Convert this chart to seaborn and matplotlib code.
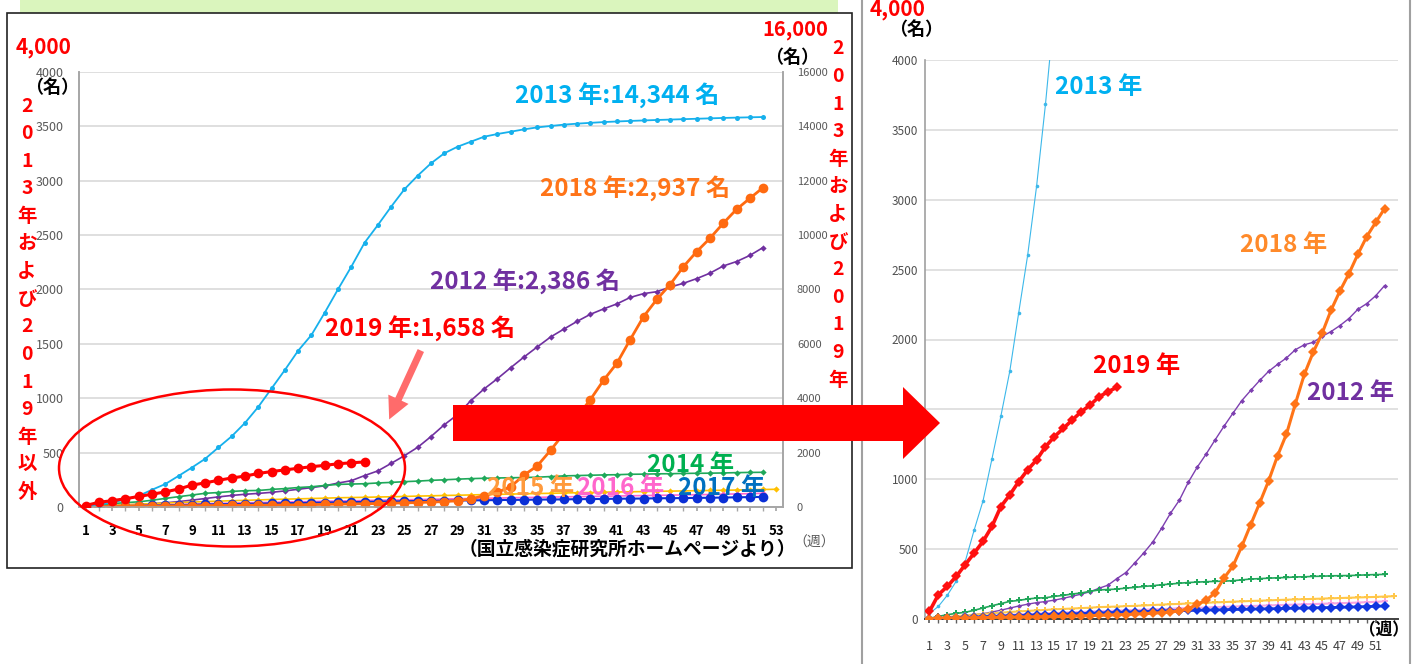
import matplotlib
matplotlib.use("Agg")
import matplotlib.pyplot as plt
import matplotlib.patches as mpatches
import seaborn as sns

W, H = 1418, 664

# ── Data: cumulative rubella cases by week ────────────────────────────────
weeks52 = list(range(1, 53))
weeks53 = list(range(1, 54))
weeks22 = list(range(1, 23))

cases_2012 = [5, 10, 14, 19, 24, 30, 38, 50, 63, 78,
              93, 106, 117, 125, 135, 148, 163, 178, 195, 220,
              242, 289, 332, 401, 472, 549, 648, 756, 850, 978,
              1086, 1180, 1281, 1379, 1472, 1563, 1636, 1707, 1772, 1822,
              1868, 1927, 1962, 1980, 2022, 2057, 2100, 2150, 2216, 2257,
              2313, 2386]
cases_2013 = [40, 90, 170, 270, 410, 635, 845, 1145, 1451, 1773,
              2192, 2602, 3095, 3684, 4363, 5040, 5750, 6328, 7148, 8008,
              8839, 9721, 10371, 11046, 11687, 12188, 12641, 13010, 13252, 13437,
              13620, 13719, 13804, 13890, 13963, 14014, 14063, 14100, 14130, 14158,
              14180, 14200, 14218, 14235, 14250, 14265, 14280, 14295, 14310, 14322,
              14333, 14344]
cases_2014 = [5, 18, 31, 40, 48, 62, 79, 95, 110, 126,
              133, 143, 150, 152, 162, 169, 179, 186, 198, 208,
              211, 214, 221, 226, 233, 238, 245, 250, 256, 261,
              264, 267, 269, 271, 274, 280, 286, 289, 292, 295,
              297, 301, 302, 305, 306, 309, 310, 311, 313, 316,
              318, 319]
cases_2015 = [4, 9, 14, 20, 26, 31, 36, 41, 45, 50,
              54, 58, 61, 65, 69, 72, 75, 78, 81, 85,
              87, 89, 92, 94, 97, 100, 103, 106, 108, 111,
              114, 116, 119, 121, 124, 126, 129, 131, 133, 136,
              138, 140, 142, 144, 146, 148, 150, 152, 154, 156,
              158, 161, 163]
cases_2016 = [3, 6, 9, 12, 15, 18, 21, 24, 27, 30,
              33, 36, 38, 41, 43, 46, 48, 50, 53, 55,
              57, 60, 62, 64, 66, 69, 71, 73, 76, 78,
              80, 82, 85, 87, 89, 91, 93, 95, 97, 99,
              101, 103, 105, 107, 109, 111, 113, 115, 118, 120,
              123, 126]
cases_2017 = [2, 4, 6, 9, 11, 14, 16, 18, 20, 23,
              25, 27, 29, 31, 33, 35, 37, 39, 41, 43,
              45, 47, 49, 51, 53, 55, 57, 58, 60, 61,
              62, 64, 65, 66, 68, 69, 70, 72, 73, 74,
              76, 77, 78, 80, 81, 82, 84, 85, 87, 89,
              91, 93]
cases_2018 = [2, 4, 5, 6, 8, 9, 10, 11, 12, 13,
              14, 15, 16, 17, 18, 19, 20, 22, 24, 26,
              28, 30, 32, 35, 38, 41, 45, 50, 57, 74,
              105, 135, 187, 293, 378, 521, 676, 830, 988, 1167,
              1323, 1540, 1750, 1909, 2045, 2210, 2348, 2471, 2609, 2737,
              2838, 2937]
cases_2019 = [55, 174, 233, 305, 388, 471, 555, 662, 805, 888,
              983, 1067, 1138, 1233, 1305, 1364, 1424, 1483, 1531, 1590,
              1626, 1658]

left_yticks = list(range(0, 4001, 500))
right_yticks = list(range(0, 16001, 2000))
left_xticks = list(range(1, 54, 2))
right_xticks = list(range(1, 52, 2))

# ── Theme / font ──────────────────────────────────────────────────────────
sns.set_theme(style="white")
FONT = ["Noto Sans CJK JP", "DejaVu Sans"]
plt.rcParams["font.family"] = FONT
plt.rcParams["axes.unicode_minus"] = False

fig = plt.figure(figsize=(W / 100, H / 100), dpi=100)


def fx(px):
    return px / W


def fy(py):
    return 1 - py / H


def ftext(x, y, s, color, size, ha="left", weight="bold", **kw):
    fig.text(fx(x), fy(y), s, color=color, fontsize=size, ha=ha, va="center",
             fontweight=weight, family=FONT, **kw)


def draw(ax, weeks, vals, color, marker, ms, lw, z):
    sns.lineplot(x=weeks, y=vals, ax=ax, color=color, marker=marker,
                 markersize=ms, markeredgewidth=0, linewidth=lw, zorder=z)


# ═══════════════════════════════════════════════════════════════════════════
# Left panel — two y axes
# ═══════════════════════════════════════════════════════════════════════════
# background frames
fig.add_artist(mpatches.Rectangle((fx(20), fy(13)), fx(838) - fx(20), 13 / H,
                                  transform=fig.transFigure, facecolor="#daf5bd",
                                  edgecolor="none", zorder=-5))
fig.add_artist(mpatches.Rectangle((fx(7), fy(568)), fx(852) - fx(7), 555 / H,
                                  transform=fig.transFigure, facecolor="none",
                                  edgecolor="#222222", lw=1.2, zorder=-4))
fig.add_artist(mpatches.Rectangle((fx(862), fy(670)), fx(1410) - fx(862), 680 / H,
                                  transform=fig.transFigure, facecolor="none",
                                  edgecolor="#a0a0a0", lw=1.5, zorder=-4))

ax = fig.add_axes([fx(79), fy(507), fx(783) - fx(79), 435 / H])
ax.patch.set_alpha(0)
ax2 = ax.twinx()

left_series = [
    (weeks52, cases_2012, "#7030a0", "D", 3.2, 1.2, 2),
    (weeks52, cases_2014, "#1fa85a", "D", 3.2, 1.2, 3),
    (weeks53, cases_2015, "#ffc000", "D", 3.2, 1.2, 4),
    (weeks52, cases_2016, "#ff66cc", "D", 3.2, 1.2, 5),
    (weeks52, cases_2017, "#0a2fd6", "o", 7, 1.5, 6),
    (weeks52, cases_2018, "#ff6a10", "o", 7, 2.0, 7),
]
for w, v, c, m, ms, lw, z in left_series:
    draw(ax, w, v, c, m, ms, lw, z)
draw(ax2, weeks52, cases_2013, "#16b0ec", "o", 3.6, 1.3, 3)
draw(ax2, weeks22, cases_2019, "#ff0000", "o", 7, 2.2, 4)

ax.set_xlim(0.5, 53.5)
ax.set_ylim(0, 4000)
ax2.set_ylim(0, 16000)
ax.set_xticks(left_xticks)
ax.set_xticklabels([str(k) for k in left_xticks])
ax.set_xticks(weeks53, minor=True)
ax.set_yticks(left_yticks)
ax2.set_yticks(right_yticks)
ax.set_xlabel("")
ax.set_ylabel("")
ax2.set_ylabel("")
ax.tick_params(axis="x", which="both", bottom=True, length=3, color="#a6a6a6",
               direction="out")
ax.tick_params(axis="x", which="major", pad=9, labelsize=9.5, labelcolor="black")
ax.tick_params(axis="y", length=0, pad=11, labelsize=9, labelcolor="#595959")
ax2.tick_params(axis="y", right=True, length=0, pad=10, labelsize=8,
                labelcolor="#595959")
for lab in ax.get_xticklabels():
    lab.set_fontweight("bold")
ax.set_axisbelow(True)
ax.yaxis.grid(True, color="#d9d9d9", lw=1.2)
for a in (ax, ax2):
    a.spines["top"].set_visible(False)
    for s in ("left", "right", "bottom"):
        a.spines[s].set_color("#a6a6a6")
        a.spines[s].set_linewidth(1.2)

# series labels
ftext(515, 96, "2013 年:14,344 名", "#00b0f0", 17.5)
ftext(540, 189, "2018 年:2,937 名", "#ff7418", 17.5)
ftext(430, 282, "2012 年:2,386 名", "#7030a0", 17.5)
ftext(325, 329, "2019 年:1,658 名", "#ff0000", 17.5)
ftext(647, 465, "2014 年", "#00b050", 17.5)
ftext(487, 488, "2015 年", "#ff9a3c", 17.5)
ftext(577, 488, "2016 年", "#ff66cc", 17.5)
ftext(678, 488, "2017 年", "#0070c0", 17.5)

# axis annotations
ftext(44, 47, "4,000", "#ff0000", 15, ha="center")
ftext(52, 87, "（名）", "black", 13, ha="center")
ftext(795, 30, "16,000", "#ff0000", 14.5, ha="center")
ftext(792, 57, "（名）", "black", 13, ha="center")
for i, ch in enumerate("2013年および2019年以外"):
    ftext(27, 106 + i * 27.6, ch, "#ff0000", 14, ha="center")
for i, ch in enumerate("2013年および2019年"):
    ftext(838, 49 + i * 27.6, ch, "#ff0000", 14, ha="center")
ftext(814, 543, "（週）", "#595959", 10, ha="center", weight="normal")
ftext(627, 549, "（国立感染症研究所ホームページより）", "black", 13.5, ha="center")

# highlight ellipse and small arrow
fig.add_artist(mpatches.Ellipse((fx(232), fy(468)), 346 / W, 157 / H,
                                transform=fig.transFigure, facecolor="none",
                                edgecolor="#ff0000", lw=1.8, zorder=10))
fig.add_artist(mpatches.FancyArrowPatch(
    (fx(422), fy(348)), (fx(388), fy(422)), transform=fig.transFigure,
    arrowstyle="simple,head_length=0.8,head_width=0.8,tail_width=0.25",
    mutation_scale=20, color="#ff6b6b", lw=0, zorder=10))

# ═══════════════════════════════════════════════════════════════════════════
# Right panel — zoomed single axis
# ═══════════════════════════════════════════════════════════════════════════
bx = fig.add_axes([fx(925), fy(619), fx(1398) - fx(925), 559 / H])
bx.patch.set_alpha(0)

right_series = [
    (weeks52, cases_2013, "#3cb8ea", "o", 2.6, 0.8, 2),
    (weeks52, cases_2012, "#7d3fb0", "D", 2.6, 1.0, 3),
    (weeks52, cases_2014, "#21a65a", "P", 4.2, 1.2, 4),
    (weeks53, cases_2015, "#ffc74a", "P", 4.2, 1.5, 5),
    (weeks52, cases_2016, "#f7a3e0", "P", 4.2, 1.5, 6),
    (weeks52, cases_2017, "#1136e0", "D", 5, 2.0, 7),
    (weeks52, cases_2018, "#ff7417", "D", 4.6, 2.2, 8),
    (weeks22, cases_2019, "#ff1010", "D", 4.6, 2.6, 9),
]
for w, v, c, m, ms, lw, z in right_series:
    draw(bx, w, v, c, m, ms, lw, z)

bx.set_xlim(0.5, 53.5)
bx.set_ylim(0, 4000)
bx.set_xticks(right_xticks)
bx.set_xticklabels([str(k) for k in right_xticks])
bx.set_xticks(weeks53, minor=True)
bx.set_yticks(left_yticks)
bx.set_xlabel("")
bx.set_ylabel("")
bx.tick_params(axis="x", which="both", bottom=True, length=3, color="#606060",
               direction="out")
bx.tick_params(axis="x", which="major", pad=12, labelsize=9, labelcolor="#404040")
bx.tick_params(axis="y", length=0, pad=5, labelsize=8.5, labelcolor="#505050")
bx.set_axisbelow(True)
bx.yaxis.grid(True, color="#dcdcdc", lw=1.2)
for s in ("top", "right"):
    bx.spines[s].set_visible(False)
bx.spines["left"].set_color("#a0a0a0")
bx.spines["bottom"].set_color("#404040")
bx.spines["left"].set_linewidth(1.2)
bx.spines["bottom"].set_linewidth(1.4)

ftext(1055, 87, "2013 年", "#00b0f0", 17.5)
ftext(1240, 245, "2018 年", "#ff8a2a", 17.5)
ftext(1093, 366, "2019 年", "#ff0000", 17.5)
ftext(1307, 393, "2012 年", "#7030a0", 17.5)
ftext(898, 10, "4,000", "#ff0000", 15, ha="center")
ftext(916, 29, "（名）", "black", 13, ha="center")
ftext(1384, 630, "（週）", "black", 12, ha="center")

# big red arrow linking the panels
arrow_px = [(453, 405), (903, 405), (903, 387), (940, 423),
            (903, 459), (903, 441), (453, 441)]
fig.add_artist(mpatches.Polygon([(fx(x), fy(y)) for x, y in arrow_px], closed=True,
                                transform=fig.transFigure, facecolor="#ff0000",
                                edgecolor="none", zorder=20))

fig.savefig("out.png", dpi=100)
